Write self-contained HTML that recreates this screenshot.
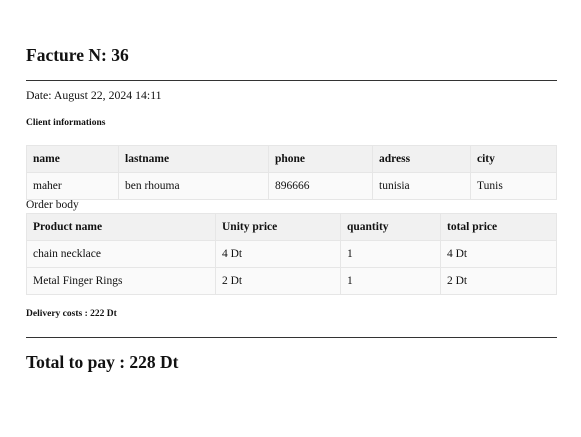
<!DOCTYPE html>
<html><head><meta charset="utf-8"><style>
body{margin:0;width:581px;height:437px;background:#fff;font-family:"Liberation Serif",serif;color:#111;position:relative;overflow:hidden}
.a{position:absolute;white-space:nowrap}
hr{position:absolute;left:26px;width:531px;margin:0;border:0;border-top:1px solid #333}
table{position:absolute;left:26px;width:531px;border-collapse:collapse;font-size:11.5px;table-layout:fixed}
td,th{border:1px solid #e6e6e6;height:26px;padding:0 0 0 6px;text-align:left;vertical-align:middle;overflow:hidden}
th{background:#f1f1f1;font-weight:bold}
td{background:#fafafa}
</style></head><body>
<div class="a" style="left:26px;top:45px;font-size:17.5px;font-weight:bold">Facture N: 36</div>
<hr style="top:80px">
<div class="a" style="left:26px;top:88px;font-size:11.8px">Date: August 22, 2024 14:11</div>
<div class="a" style="left:26px;top:118px;font-size:9.5px;font-weight:bold">Client informations</div>
<table style="top:145px">
<tr><th style="width:85px">name</th><th style="width:143px">lastname</th><th style="width:97px">phone</th><th style="width:91px">adress</th><th>city</th></tr>
<tr><td>maher</td><td>ben rhouma</td><td>896666</td><td>tunisia</td><td>Tunis</td></tr>
</table>
<div class="a" style="left:26px;top:199px;font-size:11.5px">Order body</div>
<table style="top:213px">
<tr><th style="width:182px">Product name</th><th style="width:118px">Unity price</th><th style="width:93px">quantity</th><th>total price</th></tr>
<tr><td>chain necklace</td><td>4 Dt</td><td>1</td><td>4 Dt</td></tr>
<tr><td>Metal Finger Rings</td><td>2 Dt</td><td>1</td><td>2 Dt</td></tr>
</table>
<div class="a" style="left:26px;top:309px;font-size:9.5px;font-weight:bold">Delivery costs : 222 Dt</div>
<hr style="top:337px">
<div class="a" style="left:26px;top:352px;font-size:17.5px;font-weight:bold">Total to pay : 228 Dt</div>
</body></html>
